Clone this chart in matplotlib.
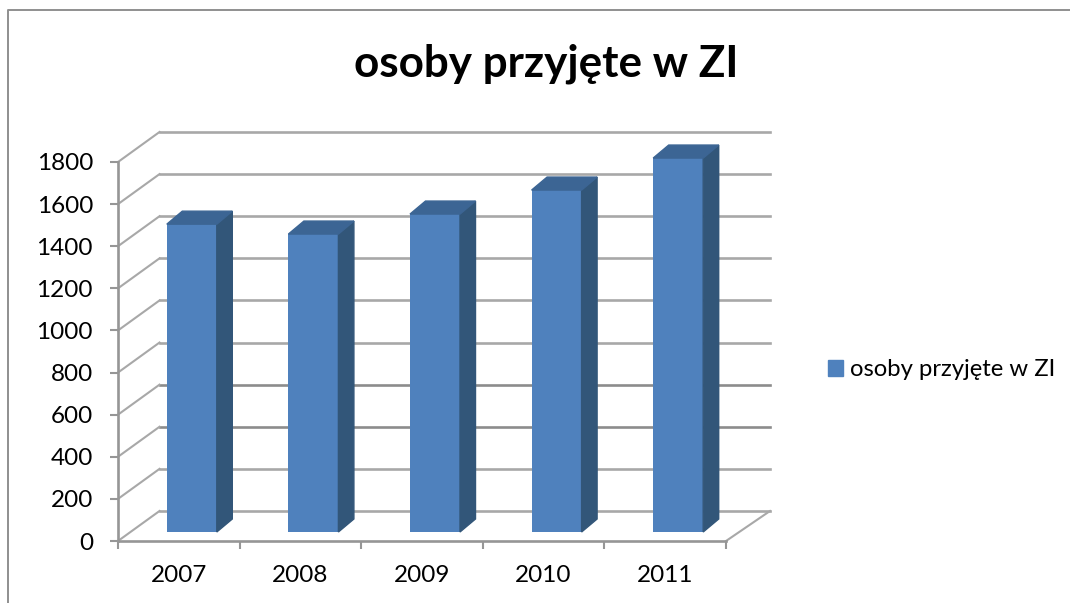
import matplotlib
matplotlib.use('Agg')
import matplotlib.pyplot as plt
from matplotlib.patches import Patch, Polygon

plt.rcParams['font.family'] = ['Lato', 'DejaVu Sans']

years = ['2007', '2008', '2009', '2010', '2011']
values = [1462, 1415, 1510, 1624, 1776]
y_ticks = [0, 200, 400, 600, 800, 1000, 1200, 1400, 1600, 1800]
series_name = 'osoby przyjęte w ZI'
title = 'osoby przyjęte w ZI'

W, H = 1070, 603
FRONT = '#4f81bd'
SIDE = '#325679'
TOP = '#3c6594'
GRID = '#a8a8a8'
AXIS = '#969696'

fig = plt.figure(figsize=(W / 100, H / 100), dpi=100)
left, right, bottom, top = 118, 726, 541, 162
ax = fig.add_axes([left / W, 1 - bottom / H, (right - left) / W, (bottom - top) / H])
ax.set_xlim(0, len(years))
ax.set_ylim(0, 1800)

# pixels to data units
px_x = len(years) / (right - left)
px_y = 1800 / (bottom - top)
wall_dx, wall_dy = 41.5 * px_x, 30 * px_y
wall_end = len(years) + 44 * px_x
bar_dx, bar_dy = 13 * px_x, 9 * px_y
depth_dx, depth_dy = 15.5 * px_x, 13 * px_y
bar_w = 50 * px_x

# back wall gridlines and the slanted ones on the side wall
for t in y_ticks:
    dark = t in (400, 600)
    ax.plot([wall_dx, wall_end], [t + wall_dy, t + wall_dy],
            color='#8c8c8c' if dark else GRID, lw=1.9, clip_on=False, zorder=1)
    ax.plot([0, wall_dx], [t, t + wall_dy], color=GRID, lw=1.5, clip_on=False, zorder=1)
ax.plot([len(years), wall_end], [0, wall_dy], color=GRID, lw=1.5, clip_on=False, zorder=1)

# bars: front face, then side and top faces
for i, v in enumerate(values):
    x0 = i + 0.5 + bar_dx - bar_w / 2
    x1 = x0 + bar_w
    ax.bar(x0 + bar_w / 2, v, bar_w, bottom=bar_dy, color=FRONT, clip_on=False, zorder=3)
    side = [(x1, bar_dy), (x1 + depth_dx, bar_dy + depth_dy),
            (x1 + depth_dx, bar_dy + v + depth_dy), (x1, bar_dy + v)]
    roof = [(x0, bar_dy + v), (x1, bar_dy + v),
            (x1 + depth_dx, bar_dy + v + depth_dy), (x0 + depth_dx, bar_dy + v + depth_dy)]
    ax.add_patch(Polygon(side, closed=True, color=SIDE, clip_on=False, zorder=3))
    ax.add_patch(Polygon(roof, closed=True, color=TOP, clip_on=False, zorder=3))

ax.patch.set_visible(False)
for s in ['top', 'right']:
    ax.spines[s].set_visible(False)
for s in ['left', 'bottom']:
    ax.spines[s].set_color(AXIS)
    ax.spines[s].set_linewidth(1.9)

ax.set_yticks(y_ticks)
ax.set_xticks(range(len(years) + 1))
ax.set_xticklabels([])
ax.set_xticks([i + 0.5 for i in range(len(years))], labels=years, minor=True)
ax.tick_params(axis='y', length=5.5, width=1.5, color=AXIS, labelsize=17.5, pad=12.5, labelcolor='black')
ax.tick_params(axis='x', which='major', length=5.5, width=1.5, color=AXIS)
ax.tick_params(axis='x', which='minor', length=0, labelsize=17.5, pad=17.5, labelcolor='black')

fig.text(546 / W, 1 - 63.5 / H, title, fontsize=31.7, fontweight='bold', ha='center', va='center')

fig.legend(handles=[Patch(color=FRONT, label=series_name)], loc='center left',
           bbox_to_anchor=(828 / W, 1 - 370 / H), frameon=False, fontsize=17.2,
           handlelength=0.63, handleheight=0.63, handletextpad=0.3, borderpad=0, borderaxespad=0)

# chart area border, cropped at top right
fig.add_artist(plt.Line2D([8 / W, 8 / W, 1], [0, 1 - 10 / H, 1 - 10 / H], color='#8f8f8f', lw=1.4))

fig.savefig('out.png', dpi=100)
